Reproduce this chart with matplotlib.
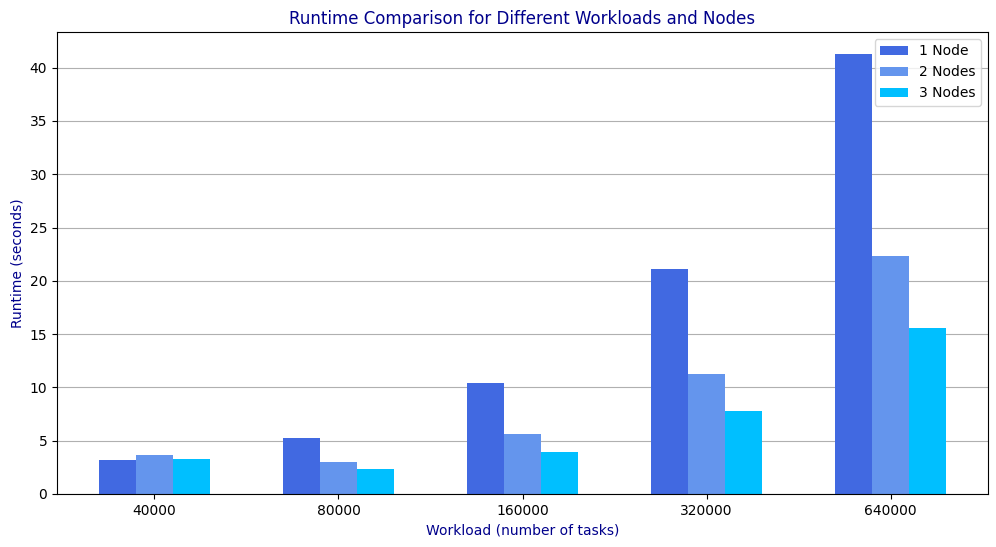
import numpy as np
import matplotlib
matplotlib.use('Agg')
import matplotlib.pyplot as plt

# Данные
workloads = ['40000', '80000', '160000', '320000', '640000']
node_labels = ['1 Node', '2 Nodes', '3 Nodes']
runtime_1 = [3.19, 5.25, 10.41, 21.1, 41.28]
runtime_2 = [3.66, 3.0, 5.63, 11.26, 22.33]
runtime_3 = [3.28, 2.35, 3.94, 7.79, 15.57]
colors = ['royalblue', 'cornflowerblue', 'deepskyblue']

x = np.arange(len(workloads))
width = 0.2

fig = plt.figure(figsize=(9.96, 5.47), dpi=100)
ax = fig.add_axes([0.0572, 0.0969, 0.9348, 0.8446])

for i, (vals, label) in enumerate(zip([runtime_1, runtime_2, runtime_3], node_labels)):
    ax.bar(x + (i - 1) * width, vals, width, label=label, color=colors[i])

ax.set_xticks(x)
ax.set_xticklabels(workloads)
ax.set_xlabel('Workload (number of tasks)', color='darkblue')
ax.set_ylabel('Runtime (seconds)', color='darkblue')
ax.set_title('Runtime Comparison for Different Workloads and Nodes', color='darkblue')
ax.yaxis.grid(True)
ax.set_axisbelow(True)
ax.legend(loc='upper right')

plt.savefig('out.png', dpi=100)
plt.close(fig)
